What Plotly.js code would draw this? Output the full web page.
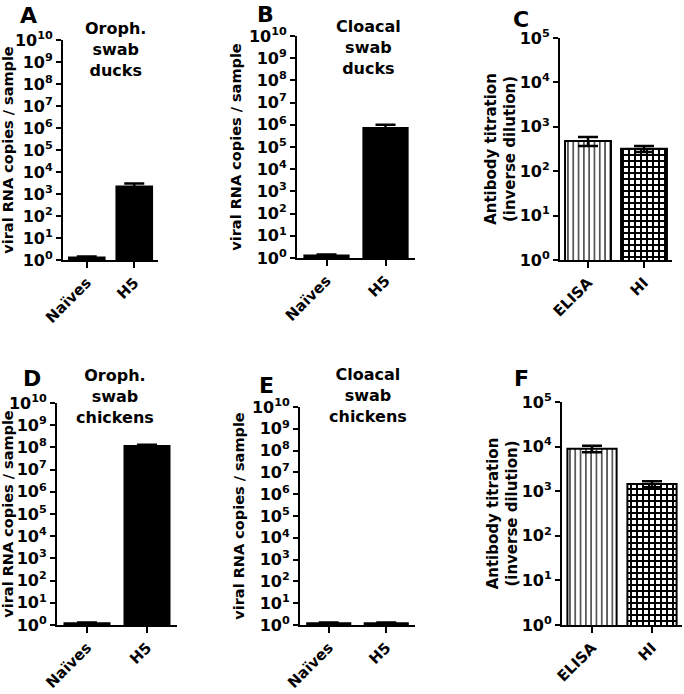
<!DOCTYPE html>
<html>
<head>
<meta charset="utf-8">
<script src="https://cdn.plot.ly/plotly-3.0.1.min.js"></script>
<style>html,body{margin:0;padding:0;background:#fff;}#chart{width:684px;height:694px;}</style>
</head>
<body>
<div id="chart"></div>
<script>
// ---- data ----
const groupCats = ['Naïves', 'H5'];
const assayCats = ['ELISA', 'HI'];

const duckOroph = [1.3, 2200];
const duckOrophErr = [0.15, 800];
const duckCloacal = [1.3, 720000];
const duckCloacalErr = [0.15, 280000];
const chickOroph = [1.2, 115000000];
const chickOrophErr = [0.1, 15000000];
const chickCloacal = [1.2, 1.2];
const chickCloacalErr = [0.1, 0.1];

const duckAb = [480, 320];
const duckAbErr = [110, 50];
const chickAb = [9000, 1450];
const chickAbErr = [1500, 220];

const virusTickVals = [1, 10, 100, 1e3, 1e4, 1e5, 1e6, 1e7, 1e8, 1e9, 1e10];
const virusTickText = ['10<sup>0</sup>', '10<sup>1</sup>', '10<sup>2</sup>', '10<sup>3</sup>', '10<sup>4</sup>', '10<sup>5</sup>', '10<sup>6</sup>', '10<sup>7</sup>', '10<sup>8</sup>', '10<sup>9</sup>', '10<sup>10</sup>'];
const abTickVals = [1, 10, 100, 1e3, 1e4, 1e5];
const abTickText = ['10<sup>0</sup>', '10<sup>1</sup>', '10<sup>2</sup>', '10<sup>3</sup>', '10<sup>4</sup>', '10<sup>5</sup>'];

const panelTitles = ['Oroph.<br>swab<br>ducks', 'Cloacal<br>swab<br>ducks', 'Oroph.<br>swab<br>chickens', 'Cloacal<br>swab<br>chickens'];
const panelLetters = ['A', 'B', 'C', 'D', 'E', 'F'];
const virusYTitle = 'viral RNA copies / sample';
const abYTitle = 'Antibody titration<br>(inverse dilution)';

// ---- styling ----
const FONT = 'DejaVu Sans, Liberation Sans, Arial, sans-serif';
const W = 684, H = 694;
function px(x) { return x / W; }
function py(y) { return (H - y) / H; }

function errBar(arr) {
  return {type: 'data', array: arr, symmetric: true, visible: true, color: '#000', thickness: 2.5, width: 10};
}

function blackBars(xa, ya, y, err) {
  return {type: 'bar', x: groupCats, y: y, xaxis: xa, yaxis: ya, width: 0.75,
    marker: {color: '#000', line: {color: '#000', width: 2}}, error_y: errBar(err), hoverinfo: 'none'};
}
const abPatterns = [
  {shape: '|', size: 5.3, solidity: 0.22, fgcolor: '#000', bgcolor: '#fff'},
  {shape: '+', size: 6, solidity: 0.55, fgcolor: '#000', bgcolor: '#fff'}
];
function abBar(xa, ya, y, err, i) {
  return {type: 'bar', x: [assayCats[i]], y: [y[i]], xaxis: xa, yaxis: ya, width: 0.82,
    marker: {color: '#fff', line: {color: '#000', width: 2}, pattern: abPatterns[i]},
    error_y: errBar([err[i]]), hoverinfo: 'none'};
}

const data = [
  blackBars('x', 'y', duckOroph, duckOrophErr),
  blackBars('x2', 'y2', duckCloacal, duckCloacalErr),
  abBar('x3', 'y3', duckAb, duckAbErr, 0),
  abBar('x3', 'y3', duckAb, duckAbErr, 1),
  blackBars('x4', 'y4', chickOroph, chickOrophErr),
  blackBars('x5', 'y5', chickCloacal, chickCloacalErr),
  abBar('x6', 'y6', chickAb, chickAbErr, 0),
  abBar('x6', 'y6', chickAb, chickAbErr, 1)
];

const tickFont = {family: FONT, size: 16, color: '#000', weight: 'bold'};
const catFont = {family: FONT, size: 15, color: '#000', weight: 'bold'};
function xAxis(anchor, domain, cats) {
  return {anchor: anchor, domain: domain, type: 'category', categoryorder: 'array', categoryarray: cats,
    range: [-0.5, 1.5], showline: true, linecolor: '#000', linewidth: 2,
    ticks: 'outside', ticklen: 6, tickwidth: 2, tickcolor: '#000', tickangle: -45, tickfont: catFont,
    showgrid: false, zeroline: false, fixedrange: true};
}
function yAxis(anchor, domain, virus) {
  return {anchor: anchor, domain: domain, type: 'log', range: virus ? [0, 10] : [0, 5],
    tickvals: virus ? virusTickVals : abTickVals, ticktext: virus ? virusTickText : abTickText,
    showline: true, linecolor: '#000', linewidth: 2, ticks: 'outside', ticklen: 5, tickwidth: 2, tickcolor: '#000',
    tickfont: tickFont, showgrid: false, zeroline: false, fixedrange: true,
    title: {text: virus ? virusYTitle : abYTitle, font: {family: FONT, size: virus ? 14.5 : 15, color: '#000', weight: 'bold'}, standoff: virus ? 4 : 0}};
}

const layout = {
  width: W, height: H, margin: {l: 0, r: 0, t: 0, b: 0}, showlegend: false,
  paper_bgcolor: '#fff', plot_bgcolor: '#fff', barmode: 'overlay',
  xaxis: xAxis('y', [px(63), px(158)], groupCats), yaxis: yAxis('x', [py(260), py(40)], true),
  xaxis2: xAxis('y2', [px(297), px(415)], groupCats), yaxis2: yAxis('x2', [py(258), py(36)], true),
  xaxis3: xAxis('y3', [px(560), px(672)], assayCats), yaxis3: yAxis('x3', [py(260), py(38)], false),
  xaxis4: xAxis('y4', [px(57), px(177)], groupCats), yaxis4: yAxis('x4', [py(625), py(403)], true),
  xaxis5: xAxis('y5', [px(300), px(415)], groupCats), yaxis5: yAxis('x5', [py(625), py(407)], true),
  xaxis6: xAxis('y6', [px(562), px(682)], assayCats), yaxis6: yAxis('x6', [py(625), py(402)], false),
  annotations: []
};

const titlePos = [[115, 49], [368, 48], [115, 397], [368, 395]];
panelTitles.forEach((t, i) => {
  layout.annotations.push({xref: 'paper', yref: 'paper', x: px(titlePos[i][0]), y: py(titlePos[i][1]),
    xanchor: 'center', yanchor: 'middle', showarrow: false, align: 'center', text: t,
    font: {family: FONT, size: 16, color: '#000', weight: 'bold'}});
});
const letterPos = [[28, 15], [265, 14], [521, 20], [32, 379], [266, 385], [521, 379]];
panelLetters.forEach((t, i) => {
  layout.annotations.push({xref: 'paper', yref: 'paper', x: px(letterPos[i][0]), y: py(letterPos[i][1]),
    xanchor: 'center', yanchor: 'middle', showarrow: false, text: t,
    font: {family: FONT, size: 22, color: '#000', weight: 'bold'}});
});

Plotly.newPlot('chart', data, layout, {staticPlot: true, displayModeBar: false});
</script>
</body>
</html>
